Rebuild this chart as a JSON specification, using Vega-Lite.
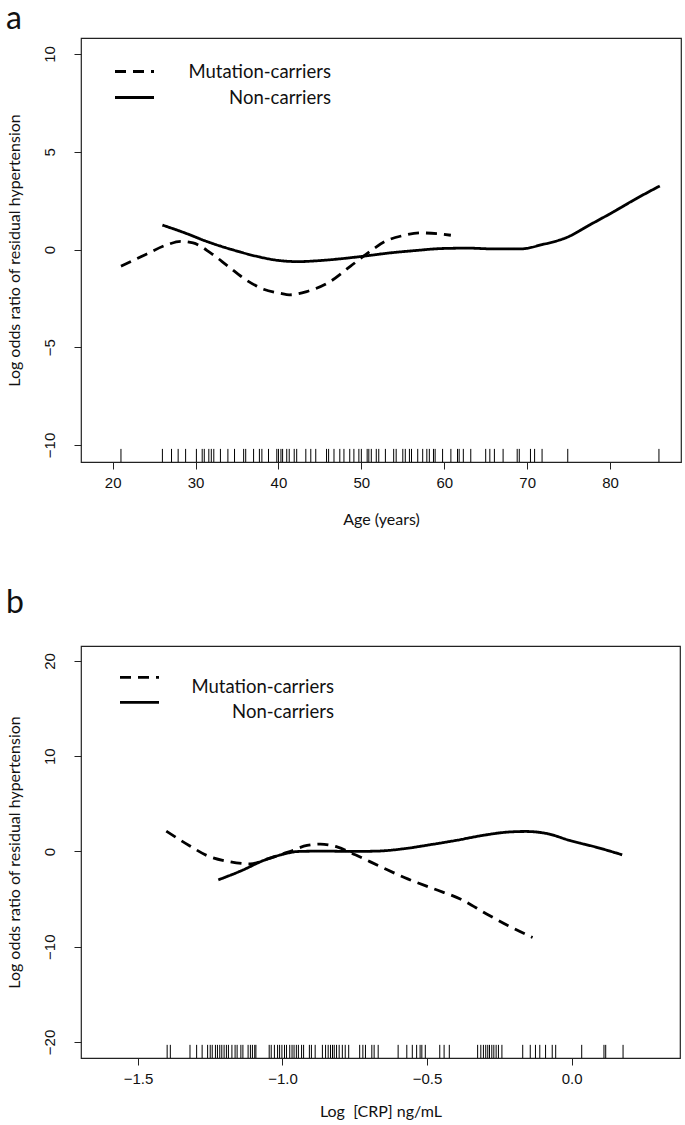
{
  "$schema": "https://vega.github.io/schema/vega-lite/v6.json",
  "background": "white",
  "padding": {"left": 5, "top": 2, "right": 2, "bottom": 2},
  "spacing": 58,
  "columns": 1,
  "resolve": {"scale": {"strokeDash": "independent"}, "legend": {"strokeDash": "independent"}},
  "config": {
    "view": {"stroke": "#222", "strokeWidth": 1.2},
    "axis": {"domain": false, "grid": false, "tickColor": "#222", "tickSize": 7, "tickWidth": 1, "labelFont": "Liberation Sans", "labelFontSize": 15, "labelColor": "#111", "titleFont": "Lato", "titleFontSize": 16, "titleFontWeight": "normal", "titleColor": "#111"},
    "axisX": {"labelPadding": 6},
    "title": {"font": "Lato", "fontSize": 32, "fontWeight": "normal", "anchor": "start", "frame": "bounds", "baseline": "alphabetic", "color": "#111"}
  },
  "datasets": {
    "ageCurves": [
      {"group": "Non-carriers", "age": 26, "logodds": 1.25},
      {"group": "Non-carriers", "age": 28.7, "logodds": 0.85},
      {"group": "Non-carriers", "age": 31.3, "logodds": 0.42},
      {"group": "Non-carriers", "age": 35, "logodds": -0.08},
      {"group": "Non-carriers", "age": 37.6, "logodds": -0.37},
      {"group": "Non-carriers", "age": 40, "logodds": -0.56},
      {"group": "Non-carriers", "age": 42.4, "logodds": -0.62},
      {"group": "Non-carriers", "age": 44.5, "logodds": -0.58},
      {"group": "Non-carriers", "age": 47.6, "logodds": -0.47},
      {"group": "Non-carriers", "age": 50.3, "logodds": -0.34},
      {"group": "Non-carriers", "age": 52.9, "logodds": -0.2},
      {"group": "Non-carriers", "age": 56.6, "logodds": -0.05},
      {"group": "Non-carriers", "age": 59.7, "logodds": 0.05},
      {"group": "Non-carriers", "age": 62.9, "logodds": 0.07},
      {"group": "Non-carriers", "age": 66, "logodds": 0.03},
      {"group": "Non-carriers", "age": 69.2, "logodds": 0.03},
      {"group": "Non-carriers", "age": 71.8, "logodds": 0.25},
      {"group": "Non-carriers", "age": 74.9, "logodds": 0.64},
      {"group": "Non-carriers", "age": 77.6, "logodds": 1.27},
      {"group": "Non-carriers", "age": 80.3, "logodds": 1.9},
      {"group": "Non-carriers", "age": 82.9, "logodds": 2.54},
      {"group": "Non-carriers", "age": 86, "logodds": 3.25},
      {"group": "Mutation-carriers", "age": 21, "logodds": -0.85},
      {"group": "Mutation-carriers", "age": 24, "logodds": -0.25},
      {"group": "Mutation-carriers", "age": 26.6, "logodds": 0.25},
      {"group": "Mutation-carriers", "age": 28.2, "logodds": 0.42},
      {"group": "Mutation-carriers", "age": 29.7, "logodds": 0.34},
      {"group": "Mutation-carriers", "age": 31.8, "logodds": -0.17},
      {"group": "Mutation-carriers", "age": 33.9, "logodds": -0.85},
      {"group": "Mutation-carriers", "age": 36, "logodds": -1.53},
      {"group": "Mutation-carriers", "age": 38.2, "logodds": -2.03},
      {"group": "Mutation-carriers", "age": 40.3, "logodds": -2.25},
      {"group": "Mutation-carriers", "age": 41.3, "logodds": -2.32},
      {"group": "Mutation-carriers", "age": 43.4, "logodds": -2.15},
      {"group": "Mutation-carriers", "age": 46, "logodds": -1.7},
      {"group": "Mutation-carriers", "age": 48.7, "logodds": -0.85},
      {"group": "Mutation-carriers", "age": 50.8, "logodds": -0.17},
      {"group": "Mutation-carriers", "age": 52.9, "logodds": 0.42},
      {"group": "Mutation-carriers", "age": 55, "logodds": 0.71},
      {"group": "Mutation-carriers", "age": 57.1, "logodds": 0.85},
      {"group": "Mutation-carriers", "age": 59.2, "logodds": 0.81},
      {"group": "Mutation-carriers", "age": 60.8, "logodds": 0.73}
    ],
    "ageRug": [
      {"age": 21}, {"age": 26}, {"age": 27.1}, {"age": 27.9}, {"age": 28.8}, {"age": 30.1}, {"age": 30.8}, {"age": 31.05}, {"age": 31.6}, {"age": 31.9},
      {"age": 32.2}, {"age": 33}, {"age": 33.9}, {"age": 34.7}, {"age": 35.8}, {"age": 36.05}, {"age": 37}, {"age": 37.7}, {"age": 38}, {"age": 38.8},
      {"age": 39.8}, {"age": 40}, {"age": 40.3}, {"age": 40.5}, {"age": 41}, {"age": 41.3}, {"age": 41.9}, {"age": 42.2}, {"age": 43.3}, {"age": 43.9},
      {"age": 44.5}, {"age": 45.8}, {"age": 46.05}, {"age": 46.7}, {"age": 47.4}, {"age": 47.9}, {"age": 48.6}, {"age": 49.1}, {"age": 49.7}, {"age": 50},
      {"age": 50.7}, {"age": 50.9}, {"age": 51.2}, {"age": 51.8}, {"age": 52.1}, {"age": 52.9}, {"age": 53.9}, {"age": 54.2}, {"age": 55}, {"age": 55.3},
      {"age": 55.8}, {"age": 56.05}, {"age": 56.8}, {"age": 57.4}, {"age": 57.9}, {"age": 58.2}, {"age": 58.7}, {"age": 58.9}, {"age": 59.8}, {"age": 60.8},
      {"age": 61.6}, {"age": 61.8}, {"age": 62.3}, {"age": 63.2}, {"age": 65}, {"age": 65.5}, {"age": 66.05}, {"age": 67.1}, {"age": 68.8}, {"age": 69.05},
      {"age": 70.4}, {"age": 70.9}, {"age": 71.8}, {"age": 74.9}, {"age": 85.9}
    ],
    "crpCurves": [
      {"group": "Mutation-carriers", "crp": -1.402, "logodds": 2.14},
      {"group": "Mutation-carriers", "crp": -1.323, "logodds": 0.63},
      {"group": "Mutation-carriers", "crp": -1.262, "logodds": -0.42},
      {"group": "Mutation-carriers", "crp": -1.187, "logodds": -1.05},
      {"group": "Mutation-carriers", "crp": -1.111, "logodds": -1.3},
      {"group": "Mutation-carriers", "crp": -1.051, "logodds": -0.77},
      {"group": "Mutation-carriers", "crp": -0.975, "logodds": 0},
      {"group": "Mutation-carriers", "crp": -0.915, "logodds": 0.63},
      {"group": "Mutation-carriers", "crp": -0.869, "logodds": 0.77},
      {"group": "Mutation-carriers", "crp": -0.809, "logodds": 0.46},
      {"group": "Mutation-carriers", "crp": -0.748, "logodds": -0.35},
      {"group": "Mutation-carriers", "crp": -0.657, "logodds": -1.65},
      {"group": "Mutation-carriers", "crp": -0.567, "logodds": -2.88},
      {"group": "Mutation-carriers", "crp": -0.476, "logodds": -3.93},
      {"group": "Mutation-carriers", "crp": -0.385, "logodds": -4.98},
      {"group": "Mutation-carriers", "crp": -0.294, "logodds": -6.56},
      {"group": "Mutation-carriers", "crp": -0.219, "logodds": -7.79},
      {"group": "Mutation-carriers", "crp": -0.135, "logodds": -9.02},
      {"group": "Non-carriers", "crp": -1.222, "logodds": -2.98},
      {"group": "Non-carriers", "crp": -1.141, "logodds": -2.0},
      {"group": "Non-carriers", "crp": -1.066, "logodds": -0.95},
      {"group": "Non-carriers", "crp": -1.005, "logodds": -0.35},
      {"group": "Non-carriers", "crp": -0.945, "logodds": 0},
      {"group": "Non-carriers", "crp": -0.854, "logodds": 0.04},
      {"group": "Non-carriers", "crp": -0.763, "logodds": 0},
      {"group": "Non-carriers", "crp": -0.672, "logodds": 0.04},
      {"group": "Non-carriers", "crp": -0.582, "logodds": 0.28},
      {"group": "Non-carriers", "crp": -0.491, "logodds": 0.7},
      {"group": "Non-carriers", "crp": -0.4, "logodds": 1.16},
      {"group": "Non-carriers", "crp": -0.309, "logodds": 1.68},
      {"group": "Non-carriers", "crp": -0.219, "logodds": 2.04},
      {"group": "Non-carriers", "crp": -0.158, "logodds": 2.1},
      {"group": "Non-carriers", "crp": -0.082, "logodds": 1.86},
      {"group": "Non-carriers", "crp": -0.007, "logodds": 1.16},
      {"group": "Non-carriers", "crp": 0.084, "logodds": 0.46},
      {"group": "Non-carriers", "crp": 0.175, "logodds": -0.35}
    ],
    "crpRug": [
      {"crp": -1.399}, {"crp": -1.388}, {"crp": -1.32}, {"crp": -1.297}, {"crp": -1.278}, {"crp": -1.259}, {"crp": -1.25}, {"crp": -1.243}, {"crp": -1.232}, {"crp": -1.225},
      {"crp": -1.217}, {"crp": -1.21}, {"crp": -1.202}, {"crp": -1.194}, {"crp": -1.187}, {"crp": -1.175}, {"crp": -1.164}, {"crp": -1.157}, {"crp": -1.144}, {"crp": -1.137},
      {"crp": -1.119}, {"crp": -1.111}, {"crp": -1.104}, {"crp": -1.096}, {"crp": -1.092}, {"crp": -1.046}, {"crp": -1.039}, {"crp": -1.028}, {"crp": -1.017}, {"crp": -1.01},
      {"crp": -1.002}, {"crp": -0.993}, {"crp": -0.986}, {"crp": -0.975}, {"crp": -0.967}, {"crp": -0.96}, {"crp": -0.952}, {"crp": -0.945}, {"crp": -0.934}, {"crp": -0.927},
      {"crp": -0.907}, {"crp": -0.9}, {"crp": -0.887}, {"crp": -0.862}, {"crp": -0.851}, {"crp": -0.842}, {"crp": -0.834}, {"crp": -0.827}, {"crp": -0.821}, {"crp": -0.813},
      {"crp": -0.804}, {"crp": -0.793}, {"crp": -0.783}, {"crp": -0.771}, {"crp": -0.733}, {"crp": -0.722}, {"crp": -0.713}, {"crp": -0.691}, {"crp": -0.683}, {"crp": -0.669},
      {"crp": -0.6}, {"crp": -0.57}, {"crp": -0.551}, {"crp": -0.536}, {"crp": -0.524}, {"crp": -0.518}, {"crp": -0.506}, {"crp": -0.456}, {"crp": -0.441}, {"crp": -0.423},
      {"crp": -0.325}, {"crp": -0.314}, {"crp": -0.305}, {"crp": -0.297}, {"crp": -0.29}, {"crp": -0.284}, {"crp": -0.276}, {"crp": -0.269}, {"crp": -0.261}, {"crp": -0.253},
      {"crp": -0.241}, {"crp": -0.169}, {"crp": -0.143}, {"crp": -0.125}, {"crp": -0.11}, {"crp": -0.09}, {"crp": -0.067}, {"crp": -0.055}, {"crp": 0.035}, {"crp": 0.112},
      {"crp": 0.118}, {"crp": 0.178}
    ]
  },
  "concat": [
    {
      "title": {"text": "a", "offset": 2},
      "width": 600,
      "height": 424,
      "layer": [
        {
          "data": {"name": "ageCurves"},
          "mark": {"type": "line", "color": "black", "strokeWidth": 2.8, "interpolate": "monotone"},
          "encoding": {
            "x": {"field": "age", "type": "quantitative", "scale": {"domain": [16.18, 88.56], "nice": false, "zero": false}, "axis": {"values": [20, 30, 40, 50, 60, 70, 80], "titlePadding": 21, "title": "Age (years)"}},
            "y": {"field": "logodds", "type": "quantitative", "scale": {"domain": [-10.87, 10.82], "nice": false, "zero": false}, "axis": {"values": [-10, -5, 0, 5, 10], "labelAngle": -90, "labelPadding": 17, "titlePadding": 20, "title": "Log odds ratio of residual hypertension"}},
            "strokeDash": {
              "field": "group", "type": "nominal",
              "scale": {"domain": ["Mutation-carriers", "Non-carriers"], "range": [[11, 7], [1, 0]]},
              "legend": {"orient": "none", "legendX": 39, "legendY": 19, "title": null, "symbolType": "M-1.5,0H1.5", "symbolSize": 676, "symbolStrokeWidth": 2.8, "symbolStrokeColor": "black", "labelAlign": "right", "labelOffset": 182, "labelFont": "Lato", "labelFontSize": 18.5, "labelColor": "#111", "labelLimit": 300, "rowPadding": 2, "padding": 0}
            }
          }
        },
        {
          "data": {"name": "ageRug"},
          "mark": {"type": "rule", "color": "black", "strokeWidth": 1},
          "encoding": {
            "x": {"field": "age", "type": "quantitative"},
            "y": {"datum": -10.87},
            "y2": {"datum": -10.2}
          }
        }
      ]
    },
    {
      "title": {"text": "b", "offset": 26},
      "width": 599,
      "height": 412,
      "layer": [
        {
          "data": {"name": "crpCurves"},
          "mark": {"type": "line", "color": "black", "strokeWidth": 2.8, "interpolate": "monotone"},
          "encoding": {
            "x": {"field": "crp", "type": "quantitative", "scale": {"domain": [-1.697, 0.375], "nice": false, "zero": false}, "axis": {"values": [-1.5, -1.0, -0.5, 0.0], "format": ".1f", "titlePadding": 17, "title": "Log \u00a0[CRP] ng/mL"}},
            "y": {"field": "logodds", "type": "quantitative", "scale": {"domain": [-21.68, 21.57], "nice": false, "zero": false}, "axis": {"values": [-20, -10, 0, 10, 20], "labelAngle": -90, "labelPadding": 17, "titlePadding": 20, "title": "Log odds ratio of residual hypertension"}},
            "strokeDash": {
              "field": "group", "type": "nominal",
              "scale": {"domain": ["Mutation-carriers", "Non-carriers"], "range": [[11, 7], [1, 0]]},
              "legend": {"orient": "none", "legendX": 44, "legendY": 26, "title": null, "symbolType": "M-1.5,-0.7H1.5", "symbolSize": 676, "symbolStrokeWidth": 2.8, "symbolStrokeColor": "black", "labelAlign": "right", "labelOffset": 180, "labelFont": "Lato", "labelFontSize": 18.5, "labelColor": "#111", "labelLimit": 300, "rowPadding": 0, "padding": 0}
            }
          }
        },
        {
          "data": {"name": "crpRug"},
          "mark": {"type": "rule", "color": "black", "strokeWidth": 1},
          "encoding": {
            "x": {"field": "crp", "type": "quantitative"},
            "y": {"datum": -21.68},
            "y2": {"datum": -20.3}
          }
        }
      ]
    }
  ]
}
